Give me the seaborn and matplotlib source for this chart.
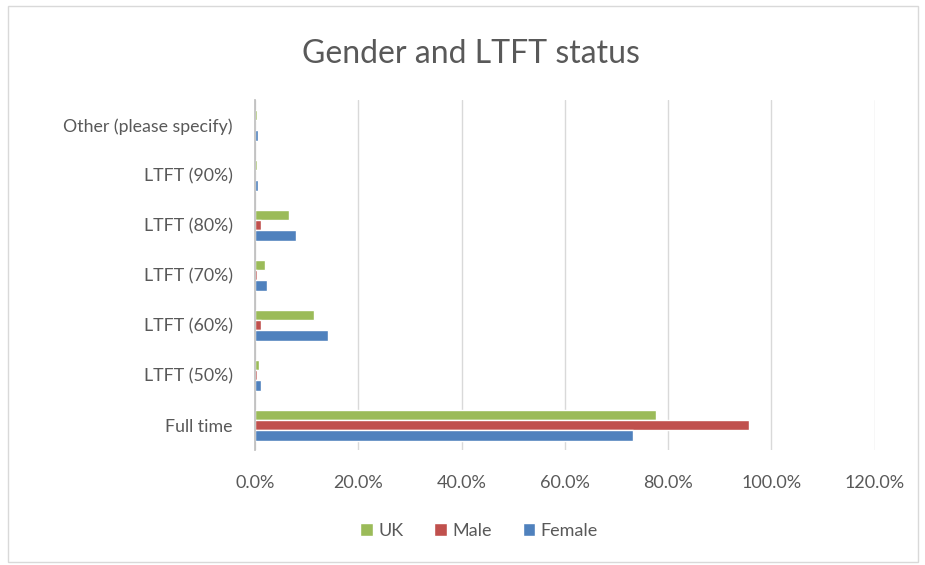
import pandas as pd
import numpy as np
import matplotlib
matplotlib.use("Agg")
import matplotlib.pyplot as plt
import seaborn as sns
from matplotlib.ticker import PercentFormatter
from matplotlib.patches import Rectangle

# values (fractions), categories top to bottom
categories = ["Other (please specify)", "LTFT (90%)", "LTFT (80%)", "LTFT (70%)",
              "LTFT (60%)", "LTFT (50%)", "Full time"]
uk     = [0.004, 0.004, 0.066, 0.020, 0.115, 0.008, 0.776]
male   = [0.000, 0.000, 0.012, 0.004, 0.012, 0.004, 0.956]
female = [0.005, 0.005, 0.080, 0.024, 0.141, 0.012, 0.731]
series = ["UK", "Male", "Female"]
colors = ["#9BBB59", "#C0504D", "#4F81BD"]
x_ticks = [0, 0.2, 0.4, 0.6, 0.8, 1.0, 1.2]

df = pd.DataFrame({
    "Status": categories * 3,
    "Group": ["UK"] * 7 + ["Male"] * 7 + ["Female"] * 7,
    "Share": uk + male + female,
})

sns.set_theme(style="white")
plt.rcParams["font.family"] = ["Lato", "DejaVu Sans"]
txt = "#595959"

fig = plt.figure(figsize=(9.25, 5.65), dpi=100)
ax = fig.add_axes([0.2757, 0.2035, 0.670, 0.6195])

sns.barplot(data=df, y="Status", x="Share", hue="Group", order=categories,
            hue_order=series, palette=colors, orient="h", width=0.62,
            saturation=1, ax=ax, legend=True)

ax.set_xlim(0, 1.2)
ax.set_xticks(x_ticks)
ax.xaxis.set_major_formatter(PercentFormatter(1.0, decimals=1))
ax.grid(axis="x", color="#D9D9D9", linewidth=1)
ax.set_axisbelow(True)
for s in ["top", "right", "bottom"]:
    ax.spines[s].set_visible(False)
ax.spines["left"].set_color("#BFBFBF")
ax.spines["left"].set_zorder(5)
ax.set_xlabel("")
ax.set_ylabel("")
ax.tick_params(axis="x", length=0, pad=18, labelsize=13, labelcolor=txt)
ax.tick_params(axis="y", length=0, pad=16, labelsize=12.8, labelcolor=txt)

fig.text(0.509, 0.905, "Gender and LTFT status", ha="center", va="center",
         fontsize=23, color=txt)

h, l = ax.get_legend_handles_labels()
ax.get_legend().remove()
fig.legend(h, l, loc="center", bbox_to_anchor=(0.518, 0.06), ncol=3, frameon=False,
           fontsize=13, labelcolor=txt, handlelength=0.7, handleheight=0.7,
           handletextpad=0.3, columnspacing=1.7)

fig.patches.append(Rectangle((0.009, 0.005), 0.983, 0.984, transform=fig.transFigure,
                             fill=False, edgecolor="#D9D9D9", linewidth=1))

fig.savefig("out.png", dpi=100)
